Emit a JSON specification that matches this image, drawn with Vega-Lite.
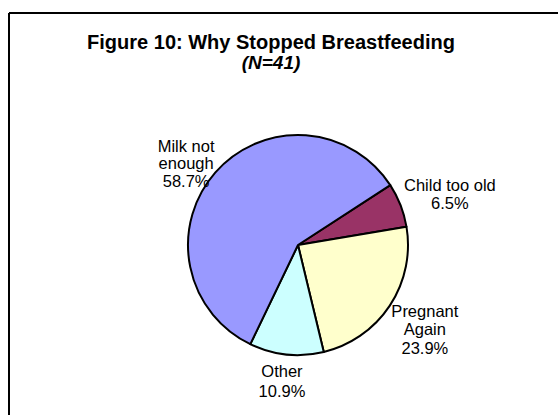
{
  "$schema": "https://vega.github.io/schema/vega-lite/v6.json",
  "autosize": {"type": "none"},
  "padding": {"left": 9, "top": 13, "right": 0, "bottom": 0},
  "width": 549,
  "height": 402,
  "background": "white",
  "view": {"stroke": "black", "strokeWidth": 2, "fill": "white", "strokeDash": [549, 951, 402, 0]},
  "title": {
    "text": "Figure 10: Why Stopped Breastfeeding",
    "subtitle": "(N=41)",
    "anchor": "middle",
    "frame": "group",
    "dx": -12.5,
    "offset": -60,
    "font": "Liberation Sans",
    "fontSize": 20,
    "fontWeight": "bold",
    "color": "black",
    "subtitleFont": "Liberation Sans",
    "subtitleFontSize": 19,
    "subtitleFontWeight": "bold",
    "subtitleFontStyle": "italic",
    "subtitleColor": "black",
    "subtitlePadding": 1
  },
  "data": {
    "values": [
      {"reason": "Child too old", "label": "Child too old", "pct": 6.5, "rank": 1},
      {"reason": "Pregnant Again", "label": "Pregnant\nAgain", "pct": 23.9, "rank": 2},
      {"reason": "Other", "label": "Other", "pct": 10.9, "rank": 3},
      {"reason": "Milk not enough", "label": "Milk not\nenough", "pct": 58.7, "rank": 4}
    ]
  },
  "transform": [
    {"stack": "pct", "groupby": [], "sort": [{"field": "rank", "order": "ascending"}], "as": ["t0", "t1"]},
    {"calculate": "(datum.t0 + datum.t1) / 2", "as": "tmid"},
    {"calculate": "split(datum.label + '\\n' + format(datum.pct, '.1f') + '%', '\\n')", "as": "lines"}
  ],
  "layer": [
    {
      "mark": {"type": "arc", "outerRadius": 110, "xOffset": 14.5, "yOffset": 31, "stroke": "black", "strokeWidth": 2, "strokeJoin": "round"},
      "encoding": {
        "theta": {"field": "t0", "type": "quantitative", "scale": {"domain": [0, 100], "range": [0.995, 7.278]}},
        "theta2": {"field": "t1"},
        "color": {
          "field": "reason",
          "type": "nominal",
          "legend": null,
          "scale": {
            "domain": ["Child too old", "Pregnant Again", "Other", "Milk not enough"],
            "range": ["#993366", "#FFFFCC", "#CCFFFF", "#9999FF"]
          }
        }
      }
    },
    {
      "transform": [{"filter": "datum.reason === 'Child too old'"}],
      "mark": {"type": "text", "radius": 163, "xOffset": 14.5, "yOffset": 31, "font": "Liberation Sans", "fontSize": 16.5, "lineHeight": 18.5, "align": "center", "baseline": "middle", "color": "black"},
      "encoding": {
        "theta": {"field": "tmid", "type": "quantitative"},
        "text": {"field": "lines"}
      }
    },
    {
      "transform": [{"filter": "datum.reason === 'Pregnant Again'"}],
      "mark": {"type": "text", "radius": 152, "xOffset": 14.5, "yOffset": 14, "font": "Liberation Sans", "fontSize": 16.5, "lineHeight": 18.5, "align": "center", "baseline": "middle", "color": "black"},
      "encoding": {
        "theta": {"field": "tmid", "type": "quantitative"},
        "text": {"field": "lines"}
      }
    },
    {
      "transform": [{"filter": "datum.reason === 'Other'"}],
      "mark": {"type": "text", "radius": 128, "xOffset": 12, "yOffset": 31, "font": "Liberation Sans", "fontSize": 16.5, "lineHeight": 20, "align": "center", "baseline": "middle", "color": "black"},
      "encoding": {
        "theta": {"field": "tmid", "type": "quantitative"},
        "text": {"field": "lines"}
      }
    },
    {
      "transform": [{"filter": "datum.reason === 'Milk not enough'"}],
      "mark": {"type": "text", "radius": 149, "xOffset": 14.5, "yOffset": 31, "font": "Liberation Sans", "fontSize": 16.5, "lineHeight": 17.5, "align": "center", "baseline": "middle", "color": "black"},
      "encoding": {
        "theta": {"field": "tmid", "type": "quantitative"},
        "text": {"field": "lines"}
      }
    }
  ]
}
